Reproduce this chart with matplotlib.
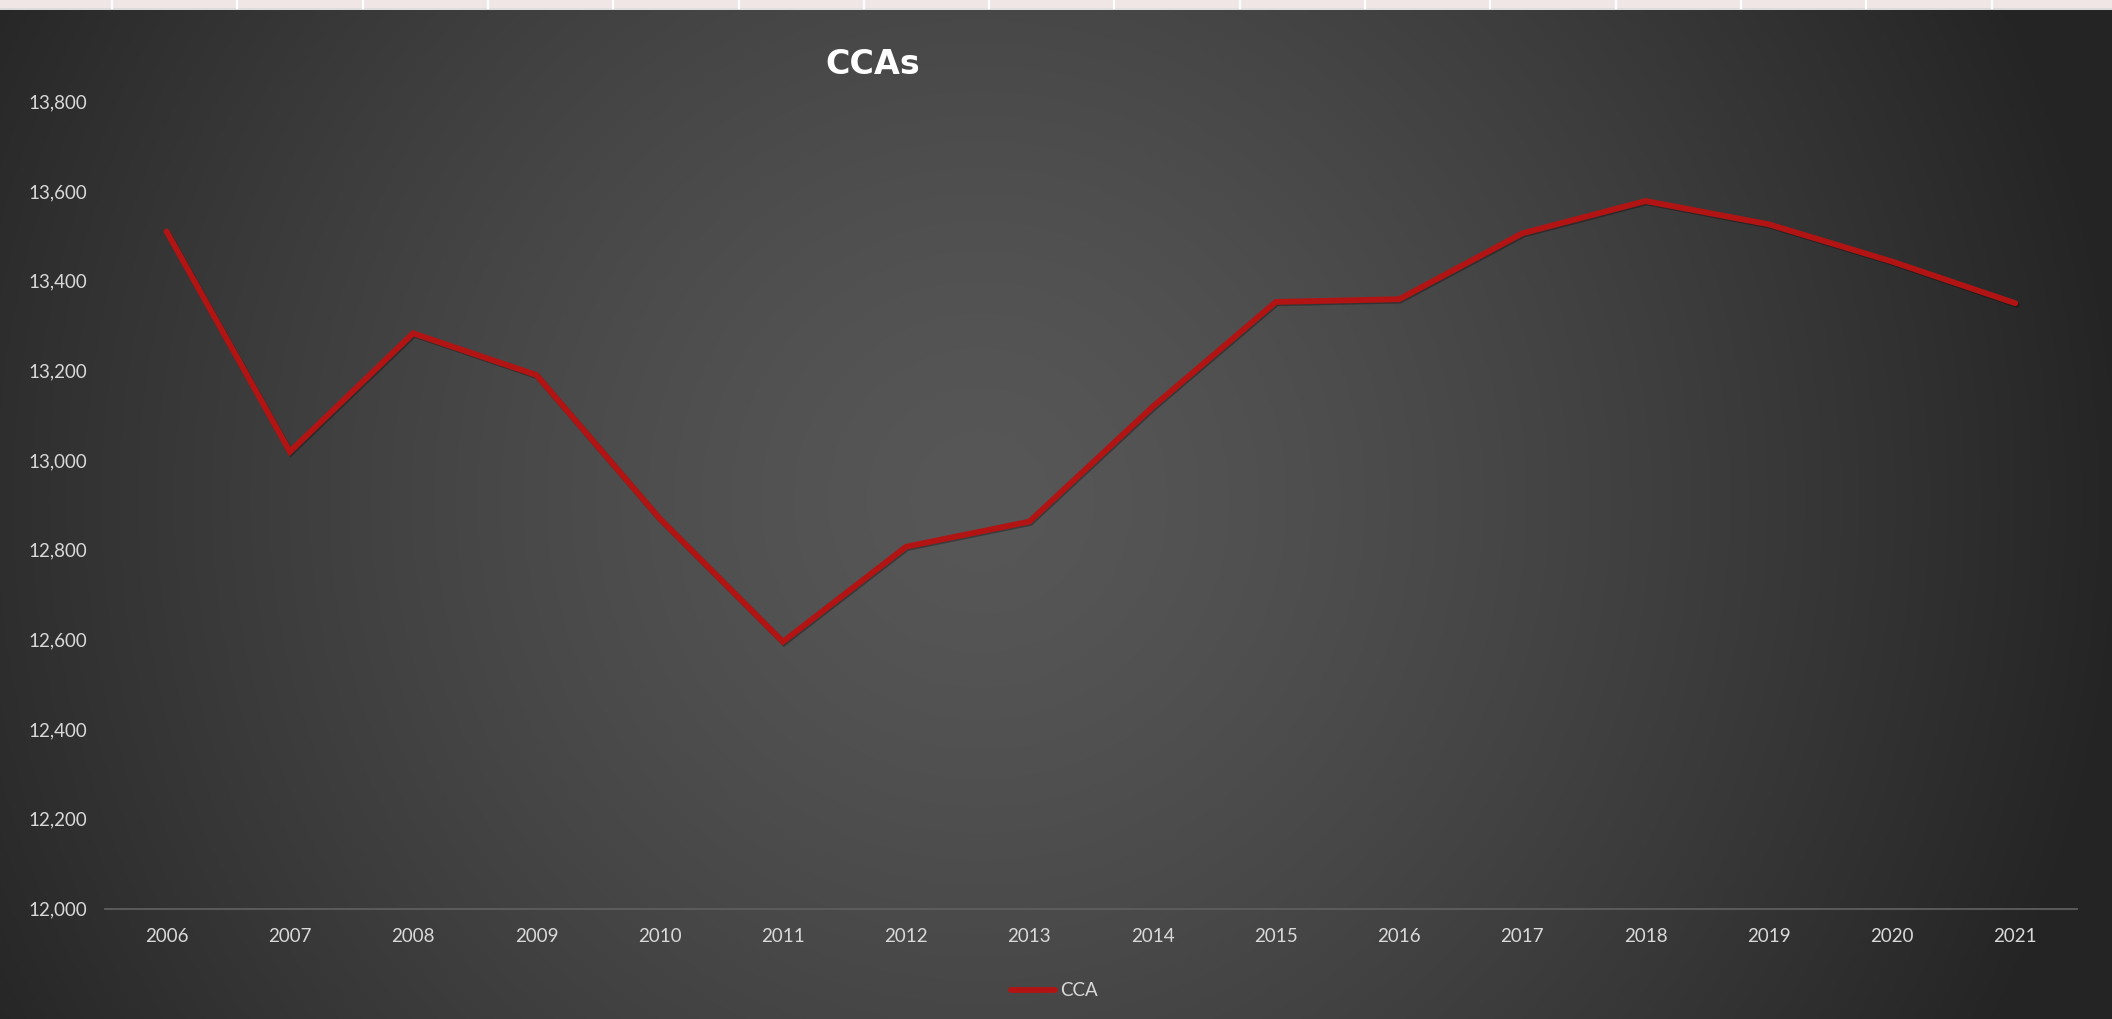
import matplotlib
matplotlib.use('Agg')
import matplotlib.pyplot as plt
import matplotlib.patches as mpatches
import matplotlib.patheffects as pe
import numpy as np
from matplotlib.ticker import FuncFormatter

# data
years = ['2006', '2007', '2008', '2009', '2010', '2011', '2012', '2013',
         '2014', '2015', '2016', '2017', '2018', '2019', '2020', '2021']
cca = [13510, 13019, 13283, 13190, 12870, 12595, 12807, 12863,
       13119, 13353, 13359, 13506, 13578, 13526, 13443, 13350]
y_ticks = [12000, 12200, 12400, 12600, 12800, 13000, 13200, 13400, 13600, 13800]

# colours
LINE_RED = '#B21414'
TEXT_COL = '#D9D9D9'
AXIS_COL = '#5E5E5E'

plt.rcParams['font.family'] = ['Lato', 'DejaVu Sans']

W, H = 2112, 1019
fig = plt.figure(figsize=(W / 100, H / 100), dpi=100)

# radial gradient background
bg = fig.add_axes([0, 0, 1, 1], zorder=-10)
xx, yy = np.meshgrid(np.arange(W), np.arange(H))
dist = np.sqrt((xx - 980) ** 2 + (yy - 500) ** 2) / 1150.0
v = 87 - 51 * np.clip(dist, 0, 1) ** 1.4
img = np.dstack([v, v, v]) / 255.0
bg.imshow(img, extent=[0, W, H, 0], aspect='auto', interpolation='bilinear')
bg.set_xlim(0, W); bg.set_ylim(H, 0)
bg.axis('off')

# light strip along the top edge (spreadsheet header bleed)
bg.add_patch(mpatches.Rectangle((0, 0), W, 8, facecolor='#F0E6E6', edgecolor='none'))
bg.plot([0, W], [8.5, 8.5], color='white', lw=1.2)
for xd in np.arange(112, W, 125.3):
    bg.plot([xd, xd], [0, 8], color='white', lw=1.6)

# main axes
ax = fig.add_axes([105 / W, 1 - 908.5 / H, (2077 - 105) / W, (908.5 - 101.5) / H])
ax.patch.set_alpha(0)
x = np.arange(len(years))
ax.plot(x, cca, color=LINE_RED, lw=4.2, solid_joinstyle='miter', solid_capstyle='round',
        label='CCA', zorder=3,
        path_effects=[pe.SimpleLineShadow(offset=(0.8, -1.0), shadow_color='black', alpha=0.3),
                      pe.Normal()])
ax.set_xlim(-0.5, len(years) - 0.5)
ax.set_ylim(12000, 13800)
ax.set_xticks(x)
ax.set_xticklabels(years)
ax.set_yticks(y_ticks)
ax.yaxis.set_major_formatter(FuncFormatter(lambda v, p: f'{int(v):,}'))

for s in ['top', 'right', 'left']:
    ax.spines[s].set_visible(False)
ax.spines['bottom'].set_color(AXIS_COL)
ax.spines['bottom'].set_linewidth(1.3)
ax.tick_params(axis='both', length=0, labelsize=13.5, labelcolor=TEXT_COL)
ax.tick_params(axis='y', pad=12.5)
ax.tick_params(axis='x', pad=14)

fig.text(873 / W, 1 - 64 / H, 'CCAs', ha='center', va='center',
         fontsize=24, fontweight='bold', color='white', family=['DejaVu Sans'])

leg = fig.legend(handles=[plt.Line2D([], [], color=LINE_RED, lw=4.2, solid_capstyle='round')],
                 labels=['CCA'], loc='center', bbox_to_anchor=(0.4993, 0.0275),
                 frameon=False, fontsize=13.5, handlelength=2.35, handletextpad=0.25)
for t in leg.get_texts():
    t.set_color(TEXT_COL)

fig.savefig('out.png', dpi=100)
